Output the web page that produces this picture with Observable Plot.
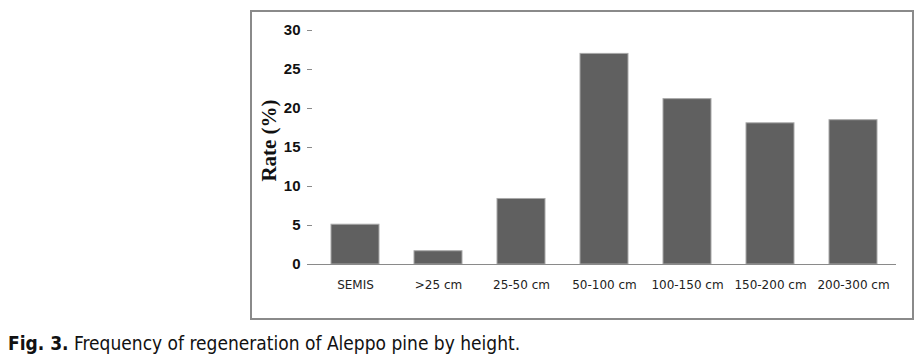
<!DOCTYPE html>
<html>
<head>
<meta charset="utf-8">
<script src="https://cdn.jsdelivr.net/npm/d3@7"></script>
<script src="https://cdn.jsdelivr.net/npm/@observablehq/plot@0.6"></script>
<style>
  html, body { margin: 0; padding: 0; background: #fff; }
  body { width: 919px; height: 357px; position: relative; overflow: hidden; }
  #frame { position: absolute; left: 250px; top: 10px; width: 660px; height: 306px; border: 2px solid #8a8a8a; }
  #caption { position: absolute; left: 8px; top: 334px; line-height: 19px; font-family: "DejaVu Sans Condensed", "DejaVu Sans", sans-serif; font-size: 19px; color: #111; white-space: nowrap; }
  #caption b { font-weight: bold; }
  #frame svg g[aria-label="y-axis tick label"] text { font: bold 15px "Liberation Sans", Arial, sans-serif; fill: #111; }
  #frame svg g[aria-label="x-axis tick label"] text { font: 12px "DejaVu Sans", sans-serif; fill: #222; }
</style>
</head>
<body>
<div id="frame"></div>
<div id="caption"><b>Fig. 3.</b> Frequency of regeneration of Aleppo pine by height.</div>
<script>
const categories = ["SEMIS", ">25 cm", "25-50 cm", "50-100 cm", "100-150 cm", "150-200 cm", "200-300 cm"];
const rates = [5.1, 1.7, 8.4, 27.0, 21.2, 18.1, 18.5];
const yTicks = [0, 5, 10, 15, 20, 25, 30];
const yLabel = "Rate (%)";

const data = categories.map((c, i) => ({category: c, rate: rates[i]}));

const chart = Plot.plot({
  width: 660,
  height: 306,
  marginLeft: 60,
  marginRight: 16,
  marginTop: 18,
  marginBottom: 54,
  style: {background: "transparent", overflow: "visible"},
  x: {domain: categories, paddingInner: 0.42, paddingOuter: 0.21, label: null},
  y: {domain: [0, 30], ticks: yTicks, label: null},
  marks: [
    Plot.barY(data, {x: "category", y: "rate", fill: "#606060", stroke: "#a8a8a8", strokeWidth: 1}),
    Plot.axisX({tickSize: 0, tickPadding: 16, label: null}),
    Plot.axisY({ticks: yTicks, tickSize: 5, tickPadding: 7, stroke: "#8a8a8a", label: null}),
    Plot.ruleX([0], {frameAnchor: "left", stroke: "#8a8a8a"}),
    Plot.ruleY([0], {stroke: "#8a8a8a"}),
    Plot.text([yLabel], {frameAnchor: "left", textAnchor: "middle", text: d => d, rotate: -90, dx: -43, dy: -7, fontSize: 21, fontWeight: "bold", fontFamily: "Liberation Serif, Times New Roman, serif", fill: "#111"})
  ]
});
chart.style.position = "absolute";
chart.style.left = "0px";
chart.style.top = "0px";
document.getElementById("frame").appendChild(chart);
</script>
</body>
</html>
